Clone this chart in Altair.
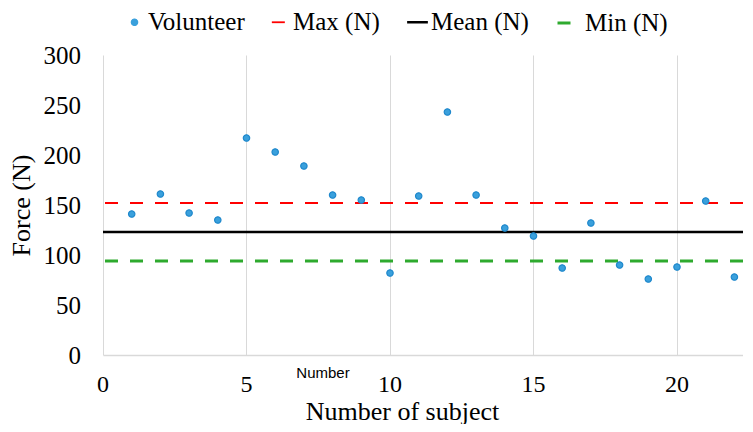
import altair as alt
import pandas as pd

# ---- data ----
subjects = list(range(1, 23))
force = [141, 161, 142, 135, 217, 203, 189, 160, 155, 82, 159, 243,
         160, 127, 119, 87, 132, 90, 76, 88, 154, 78]
ref_names = ["Max (N)", "Mean (N)", "Min (N)"]
ref_values = [152, 123, 94]
x_ticks = [0, 5, 10, 15, 20]
y_ticks = [0, 50, 100, 150, 200, 250, 300]

series_names = ["Volunteer", "Max (N)", "Mean (N)", "Min (N)"]
series_colors = ["#3AA0DC", "#FF0000", "#000000", "#2EAA2E"]
series_shapes = ["circle", "stroke", "stroke", "stroke"]
series_dash = [[1, 0], [13, 12], [1, 0], [13, 12]]
series_sizes = [40, 625, 625, 625]
series_widths = [1.2, 3, 2.5, 3]

points_df = pd.DataFrame({"subject": subjects, "force": force,
                          "series": ["Volunteer"] * len(subjects)})
rules_df = pd.DataFrame({"series": ref_names, "force": ref_values})
xlab_df = pd.DataFrame({"v": x_ticks})
ylab_df = pd.DataFrame({"v": y_ticks})
note_df = pd.DataFrame({"t": ["Number"]})

SERIF = "Liberation Serif"
TIMES = "Times New Roman"

legend = alt.Legend(
    title=None, orient="none", legendX=19, legendY=-46, direction="horizontal",
    columnPadding=22, labelOffset=1, padding=0,
    labelFont=TIMES, labelFontSize=25, labelColor="black",
)

color = alt.Color("series:N", scale=alt.Scale(domain=series_names, range=series_colors), legend=legend)
shape = alt.Shape("series:N", scale=alt.Scale(domain=series_names, range=series_shapes), legend=legend)
dash = alt.StrokeDash("series:N", scale=alt.Scale(domain=series_names, range=series_dash), legend=legend)
size = alt.Size("series:N", scale=alt.Scale(domain=series_names, range=series_sizes), legend=legend)
swidth = alt.StrokeWidth("series:N", scale=alt.Scale(domain=series_names, range=series_widths), legend=legend)

x_scale = alt.Scale(domain=[0, 22.3], nice=False, zero=False)
y_scale = alt.Scale(domain=[0, 300], nice=False)

x_axis = alt.Axis(values=x_ticks, title="Number of subject", ticks=False, grid=True, labels=False,
                  gridColor="#D9D9D9", gridWidth=1, domainColor="#D9D9D9", domainWidth=1.5,
                  titleX=299, titleY=64, titleAlign="center", titleBaseline="alphabetic")
y_axis = alt.Axis(values=y_ticks, title="Force (N)", ticks=False, grid=False, domain=False,
                  labels=False, titleX=-69, titleY=150, titleAngle=-90,
                  titleAlign="center", titleBaseline="bottom")

rules = alt.Chart(rules_df).mark_rule().encode(
    y=alt.Y("force:Q", scale=y_scale, axis=y_axis),
    color=color, strokeDash=dash, strokeWidth=swidth,
)

points = alt.Chart(points_df).mark_point(filled=True, opacity=1, stroke="#1F88CC").encode(
    x=alt.X("subject:Q", scale=x_scale, axis=x_axis),
    y=alt.Y("force:Q", scale=y_scale, axis=y_axis),
    color=color, shape=shape, size=size, strokeDash=dash, strokeWidth=swidth,
)

# tick labels, placed by the shared scales
xlabels = alt.Chart(xlab_df).mark_text(
    font=TIMES, fontSize=24, color="black", align="center", baseline="middle", dy=30
).encode(x=alt.X("v:Q", scale=x_scale, axis=x_axis), y=alt.value(300),
         text=alt.Text("v:Q", format="d"))

ylabels = alt.Chart(ylab_df).mark_text(
    font=TIMES, fontSize=25, color="black", align="right", baseline="middle", dy=1
).encode(x=alt.value(-22), y=alt.Y("v:Q", scale=y_scale, axis=y_axis),
         text=alt.Text("v:Q", format="d"))

note = alt.Chart(note_df).mark_text(font="Liberation Sans", fontSize=15, color="black").encode(
    x=alt.value(220), y=alt.value(318), text="t:N"
)

chart = alt.layer(rules, points, xlabels, ylabels, note).properties(
    width=640, height=300,
    autosize=alt.AutoSizeParams(type="none"),
    padding={"left": 95, "top": 47, "right": 0, "bottom": 69},
).configure_view(stroke=None).configure_axis(
    titleFont=SERIF, titleFontSize=26, titleFontWeight="normal", titleColor="black",
)

chart.save("out.html", embed_options={"renderer": "svg", "actions": False})
